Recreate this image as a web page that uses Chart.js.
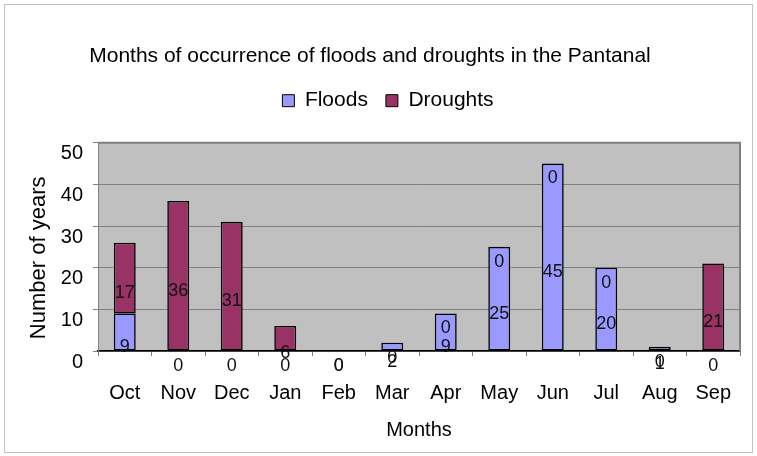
<!DOCTYPE html>
<html lang="en">
<head>
<meta charset="UTF-8">
<title>Floods and droughts in the Pantanal</title>
<style>
  body { margin: 0; background: #fff; overflow: hidden; }
  #wrap { width: 757px; height: 456px; }
</style>
</head>
<body>
<div id="wrap"><canvas id="chart"></canvas></div>
<script src="https://cdn.jsdelivr.net/npm/chart.js"></script>
<script>
var months = ['Oct', 'Nov', 'Dec', 'Jan', 'Feb', 'Mar', 'Apr', 'May', 'Jun', 'Jul', 'Aug', 'Sep']
var floods = [9, 0, 0, 0, 0, 2, 9, 25, 45, 20, 1, 0]
var droughts = [17, 36, 31, 6, 0, 0, 0, 0, 0, 0, 0, 21]
var yMax = 50
var yStep = 10
var yTitle = 'Number of years'

var font = "'Liberation Sans', Arial, sans-serif"

// white page, thin frame, grey plot area
var backdrop = {
  id: 'backdrop',
  beforeDraw(chart) {
    var c = chart.ctx, a = chart.chartArea
    c.save()
    c.fillStyle = '#fff'
    c.fillRect(0, 0, chart.width, chart.height)
    c.strokeStyle = '#c4c4c4'
    c.lineWidth = 1
    c.strokeRect(4.5, 4.5, chart.width - 9, chart.height - 8)
    c.fillStyle = '#c0c0c0'
    c.fillRect(a.left, a.top, a.right - a.left, a.bottom - a.top)
    c.restore()
  },
  beforeDatasetsDraw(chart) {
    var c = chart.ctx, a = chart.chartArea
    c.save()
    c.strokeStyle = '#808080'
    c.lineWidth = 2
    c.beginPath()
    c.moveTo(a.left, a.top)
    c.lineTo(a.right, a.top)
    c.lineTo(a.right, a.bottom)
    c.stroke()
    c.restore()
  }
}

// value labels, a bit below the middle of each segment like the original
var valueLabels = {
  id: 'valueLabels',
  afterDatasetsDraw(chart) {
    var c = chart.ctx
    c.save()
    c.font = '18px ' + font
    c.textAlign = 'center'
    c.textBaseline = 'middle'
    c.fillStyle = '#111'
    chart.data.datasets.forEach(function (ds, i) {
      chart.getDatasetMeta(i).data.forEach(function (bar, j) {
        var p = bar.getProps(['x', 'y', 'base'], true)
        c.fillText(ds.data[j], p.x, (p.y + p.base) / 2 + 15)
      })
    })
    c.restore()
  },
  afterDraw(chart) {
    // y title sits a little low in the original
    var c = chart.ctx, a = chart.chartArea
    c.save()
    c.font = '22px ' + font
    c.fillStyle = '#000'
    c.textAlign = 'center'
    c.textBaseline = 'middle'
    c.translate(39, (a.top + a.bottom) / 2 + 11)
    c.rotate(-Math.PI / 2)
    c.fillText(yTitle, 0, 0)
    c.restore()
  }
}

// more room under the legend, and nudge it right a bit
var legendGap = {
  id: 'legendGap',
  beforeInit(chart) {
    var lg = chart.legend
    var fit = lg.fit
    var draw = lg.draw
    lg.fit = function () {
      fit.call(this)
      this.height = 70.5
    }
    lg.draw = function () {
      var c = this.ctx
      c.save()
      c.translate(18, 0)
      draw.call(this)
      c.restore()
    }
  }
}

new Chart(document.getElementById('chart'), {
  type: 'bar',
  data: {
    labels: months,
    datasets: [
      { label: 'Floods', data: floods, backgroundColor: '#9999ff', borderColor: '#000', borderWidth: 1.6, borderSkipped: false },
      { label: 'Droughts', data: droughts, backgroundColor: '#993366', borderColor: '#000', borderWidth: 1.6, borderSkipped: false }
    ]
  },
  options: {
    responsive: true,
    maintainAspectRatio: false,
    animation: false,
    categoryPercentage: 1,
    barPercentage: 0.41,
    layout: { padding: { left: 0, right: 17, top: 0, bottom: 0 } },
    plugins: {
      title: {
        display: true,
        text: 'Months of occurrence of floods and droughts in the Pantanal',
        color: '#000',
        font: { family: font, size: 21, weight: 'normal' },
        padding: { top: 44, bottom: 3 }
      },
      legend: {
        labels: {
          color: '#000',
          font: { family: font, size: 21 },
          boxWidth: 12,
          boxHeight: 12,
          padding: 18,
          generateLabels(chart) {
            var items = Chart.defaults.plugins.legend.labels.generateLabels(chart)
            items.forEach(function (it) { it.lineWidth = 1 })
            return items
          }
        }
      },
      tooltip: { enabled: false }
    },
    scales: {
      x: {
        stacked: true,
        grid: { offset: true, drawOnChartArea: false, tickLength: 5, color: '#808080' },
        border: { color: '#000', width: 1.5 },
        ticks: { color: '#000', font: { family: font, size: 20 }, padding: 25, maxRotation: 0 },
        title: { display: true, text: 'Months', color: '#000', font: { family: font, size: 20 }, padding: { bottom: 14 } },
        afterFit(scale) { scale.height = 105 }
      },
      y: {
        stacked: true,
        min: 0,
        max: yMax,
        grid: { color: '#808080', tickLength: 5 },
        border: { color: '#808080' },
        ticks: { stepSize: yStep, color: '#000', font: { family: font, size: 20 }, padding: 10, labelOffset: 11 },
        title: { display: false },
        afterFit(scale) { scale.width = 98 }
      }
    }
  },
  plugins: [legendGap, backdrop, valueLabels]
})
</script>
</body>
</html>
